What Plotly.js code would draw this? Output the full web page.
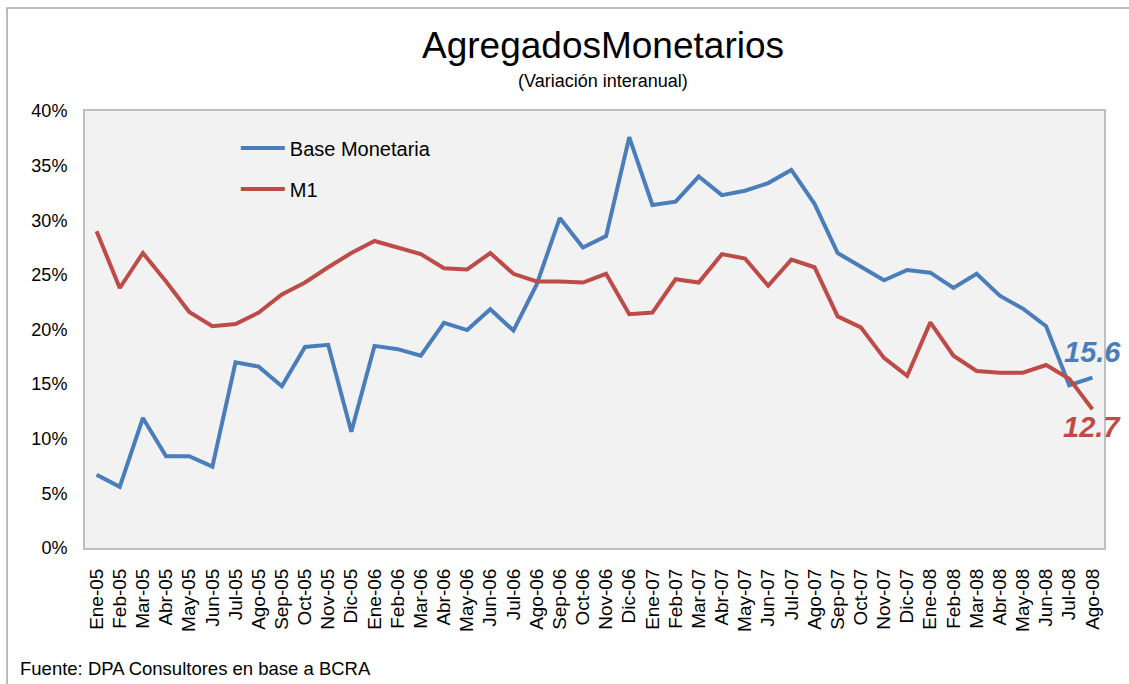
<!DOCTYPE html>
<html>
<head>
<meta charset="utf-8">
<script src="https://cdn.plot.ly/plotly-3.0.1.min.js"></script>
<style>
html,body{margin:0;padding:0;background:#fff;}
#chart{width:1129px;height:684px;}
</style>
</head>
<body>
<div id="chart"></div>
<script>
const categories = ["Ene-05","Feb-05","Mar-05","Abr-05","May-05","Jun-05","Jul-05","Ago-05","Sep-05","Oct-05","Nov-05","Dic-05",
  "Ene-06","Feb-06","Mar-06","Abr-06","May-06","Jun-06","Jul-06","Ago-06","Sep-06","Oct-06","Nov-06","Dic-06",
  "Ene-07","Feb-07","Mar-07","Abr-07","May-07","Jun-07","Jul-07","Ago-07","Sep-07","Oct-07","Nov-07","Dic-07",
  "Ene-08","Feb-08","Mar-08","Abr-08","May-08","Jun-08","Jul-08","Ago-08"];

const baseMonetaria = [6.7,5.6,11.9,8.4,8.4,7.45,17.0,16.6,14.8,18.4,18.6,10.65,
  18.5,18.2,17.6,20.6,19.95,21.85,19.9,24.1,30.2,27.5,28.55,37.6,
  31.4,31.7,34.0,32.3,32.7,33.4,34.6,31.5,27.0,25.7,24.5,25.45,
  25.2,23.8,25.1,23.1,21.9,20.3,14.9,15.6];

const m1 = [29.0,23.8,27.0,24.4,21.6,20.3,20.5,21.55,23.2,24.3,25.7,27.0,
  28.1,27.5,26.9,25.6,25.5,27.0,25.1,24.4,24.4,24.3,25.1,21.4,
  21.55,24.6,24.3,26.9,26.5,24.0,26.4,25.7,21.2,20.2,17.4,15.75,
  20.65,17.6,16.2,16.05,16.05,16.75,15.5,12.7];

const yTickVals = [0,5,10,15,20,25,30,35,40];

const FONT = "Arial, 'Liberation Sans', sans-serif";
const BLUE = "#4A7EBB";
const RED = "#BE4B48";

const traces = [
  {x: categories, y: baseMonetaria, type: "scatter", mode: "lines", name: "Base Monetaria",
   legendgroup: "a", line: {color: BLUE, width: 4}},
  {x: categories, y: m1, type: "scatter", mode: "lines", name: "M1",
   legendgroup: "b", line: {color: RED, width: 4}}
];

const lastIdx = categories.length - 1;

const layout = {
  width: 1129, height: 684,
  margin: {l: 85, r: 25, t: 111, b: 136},
  paper_bgcolor: "#ffffff",
  plot_bgcolor: "#F2F2F2",
  font: {family: FONT, color: "#000"},
  showlegend: true,
  legend: {x: 0.148, y: 0.96, xanchor: "left", yanchor: "top",
    bgcolor: "rgba(0,0,0,0)", font: {size: 20, family: FONT},
    traceorder: "grouped", tracegroupgap: 12, itemwidth: 44},
  xaxis: {type: "category", range: [-0.5, categories.length - 0.5], tickangle: -90,
    tickfont: {size: 19, family: FONT},
    showgrid: false, zeroline: false, showline: true, linecolor: "#BFBFBF", linewidth: 2, mirror: true,
    ticks: "outside", ticklen: 11, tickcolor: "rgba(0,0,0,0)", fixedrange: true},
  yaxis: {range: [0, 40], tickvals: yTickVals, ticktext: yTickVals.map(v => v + "%"),
    tickfont: {size: 18, family: FONT}, showgrid: false, zeroline: false,
    showline: true, linecolor: "#BFBFBF", linewidth: 2, mirror: true,
    ticks: "outside", ticklen: 12, tickcolor: "rgba(0,0,0,0)", fixedrange: true},
  annotations: [
    {xref: "paper", yref: "paper", x: 0.508, y: 1.151, xanchor: "center", yanchor: "middle",
     text: "AgregadosMonetarios", showarrow: false, font: {size: 37, family: FONT}},
    {xref: "paper", yref: "paper", x: 0.508, y: 1.068, xanchor: "center", yanchor: "middle",
     text: "(Variación interanual)", showarrow: false, font: {size: 18, family: FONT}},
    {xref: "paper", yref: "paper", x: -0.066, y: -0.275, xanchor: "left", yanchor: "middle",
     text: "Fuente: DPA Consultores en base a BCRA", showarrow: false, font: {size: 18.5, family: FONT}},
    {xref: "x", yref: "y", x: categories[lastIdx], y: 17.9, xanchor: "center", yanchor: "middle",
     text: "<b><i>" + baseMonetaria[lastIdx].toFixed(1) + "</i></b>", showarrow: false,
     font: {size: 29, family: FONT, color: BLUE}},
    {xref: "x", yref: "y", x: categories[lastIdx], y: 11.1, xanchor: "center", yanchor: "middle",
     text: "<b><i>" + m1[lastIdx].toFixed(1) + "</i></b>", showarrow: false,
     font: {size: 29, family: FONT, color: RED}}
  ],
  shapes: [
    {type: "rect", xref: "paper", yref: "paper", x0: -0.0765, x1: 1.2, y0: -0.4, y1: 1.2357,
     line: {color: "#A6A6A6", width: 1.5}, fillcolor: "rgba(0,0,0,0)", layer: "below"}
  ]
};

Plotly.newPlot("chart", traces, layout, {displayModeBar: false, staticPlot: true});
</script>
</body>
</html>
